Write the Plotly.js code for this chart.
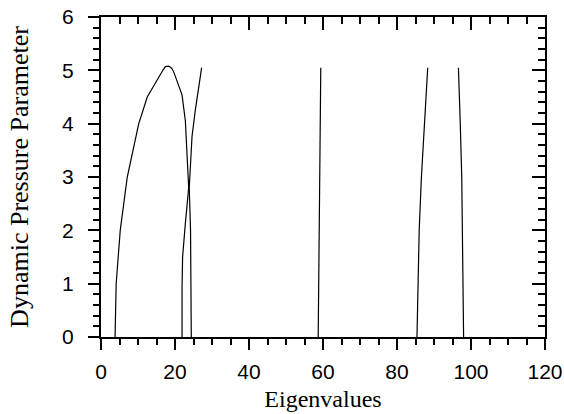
<!DOCTYPE html>
<html>
<head>
<meta charset="utf-8">
<script src="https://cdn.plot.ly/plotly-3.0.1.min.js"></script>
<style>html,body{margin:0;padding:0;background:#fff;}#chart{width:564px;height:414px;}</style>
</head>
<body>
<div id="chart"></div>
<script>
// Curve data (x = eigenvalue, y = dynamic pressure parameter)
const mode12X = [3.8, 4.1, 5.2, 7.1, 10.2, 12.5, 16.8, 17.4, 18.3, 19.1, 19.6, 21.9, 22.8, 23.3, 23.7, 22.8, 22.05, 21.9, 21.9];
const mode12Y = [0, 1, 2, 3, 4, 4.5, 5.01, 5.07, 5.08, 5.04, 4.98, 4.54, 4.05, 3.4, 2.8, 2.13, 1.5, 0.9, 0];
const mode3X = [24.4, 24.4, 24.2, 23.85, 24.15, 24.6, 25.5, 26.4, 27.2];
const mode3Y = [0, 1, 2, 2.8, 3.3, 3.76, 4.26, 4.7, 5.05];
const mode4X = [58.7, 58.85, 59.0, 59.15, 59.3, 59.4];
const mode4Y = [0, 1, 2, 3, 4, 5.05];
const mode5X = [85.4, 85.6, 86.0, 86.6, 87.4, 88.3];
const mode5Y = [0, 1, 2, 3, 4, 5.05];
const mode6X = [98.0, 97.9, 97.8, 97.5, 97.1, 96.6];
const mode6Y = [0, 1, 2, 3, 4, 5.05];

const xRange = [0, 120];
const yRange = [0, 6];
const xTitle = 'Eigenvalues';
const yTitle = 'Dynamic Pressure Parameter';

const lineStyle = {color: 'black', width: 1.2};
const series = [[mode12X, mode12Y], [mode3X, mode3Y], [mode4X, mode4Y], [mode5X, mode5Y], [mode6X, mode6Y]];
const traces = series.map(s => ({
  x: s[0], y: s[1], type: 'scatter', mode: 'lines', line: lineStyle,
  showlegend: false, hoverinfo: 'skip'
}));
// helper trace so that the mirrored top/right axes are drawn
traces.push({x: [xRange[0]], y: [yRange[0]], xaxis: 'x2', yaxis: 'y2', type: 'scatter', mode: 'markers',
  marker: {opacity: 0}, showlegend: false, hoverinfo: 'skip'});

const tickFont = {family: 'Liberation Sans, Arial, sans-serif', size: 21, color: 'black'};
const xTitleFont = {family: 'Liberation Serif, Times New Roman, serif', size: 24, color: 'black'};
const yTitleFont = {family: 'Liberation Serif, Times New Roman, serif', size: 26, color: 'black'};

const layout = {
  width: 564, height: 414,
  margin: {l: 101, r: 19, t: 17, b: 77},
  paper_bgcolor: 'white', plot_bgcolor: 'white',
  showlegend: false,
  xaxis: {
    range: xRange, dtick: 20, tick0: 0, ticks: 'outside', ticklen: 11, tickwidth: 2, tickcolor: 'black',
    showline: true, linewidth: 2, linecolor: 'black', showgrid: false, zeroline: false,
    tickfont: tickFont, ticklabelstandoff: 4,
    minor: {dtick: 5, ticks: 'outside', ticklen: 6, tickwidth: 2, tickcolor: 'black', showgrid: false},
    title: {text: xTitle, font: xTitleFont, standoff: 8}
  },
  yaxis: {
    range: yRange, dtick: 1, tick0: 0, ticks: 'outside', ticklen: 11, tickwidth: 2, tickcolor: 'black',
    showline: true, linewidth: 2, linecolor: 'black', showgrid: false, zeroline: false,
    tickfont: tickFont, ticklabelstandoff: 10,
    minor: {dtick: 0.2, ticks: 'outside', ticklen: 6, tickwidth: 2, tickcolor: 'black', showgrid: false},
    title: {text: yTitle, font: yTitleFont, standoff: 26}
  },
  xaxis2: {
    range: xRange, overlaying: 'x', side: 'top', anchor: 'y2', dtick: 20, tick0: 0,
    ticks: 'inside', ticklen: 13, tickwidth: 2, tickcolor: 'black', showticklabels: false,
    showline: true, linewidth: 2, linecolor: 'black', showgrid: false, zeroline: false,
    minor: {dtick: 5, ticks: 'inside', ticklen: 7, tickwidth: 2, tickcolor: 'black', showgrid: false}
  },
  yaxis2: {
    range: yRange, overlaying: 'y', side: 'right', anchor: 'x2', dtick: 1, tick0: 0,
    ticks: 'inside', ticklen: 13, tickwidth: 2, tickcolor: 'black', showticklabels: false,
    showline: true, linewidth: 2, linecolor: 'black', showgrid: false, zeroline: false,
    minor: {dtick: 0.2, ticks: 'inside', ticklen: 7, tickwidth: 2, tickcolor: 'black', showgrid: false}
  }
};

Plotly.newPlot('chart', traces, layout, {staticPlot: true, displayModeBar: false});
</script>
</body>
</html>
